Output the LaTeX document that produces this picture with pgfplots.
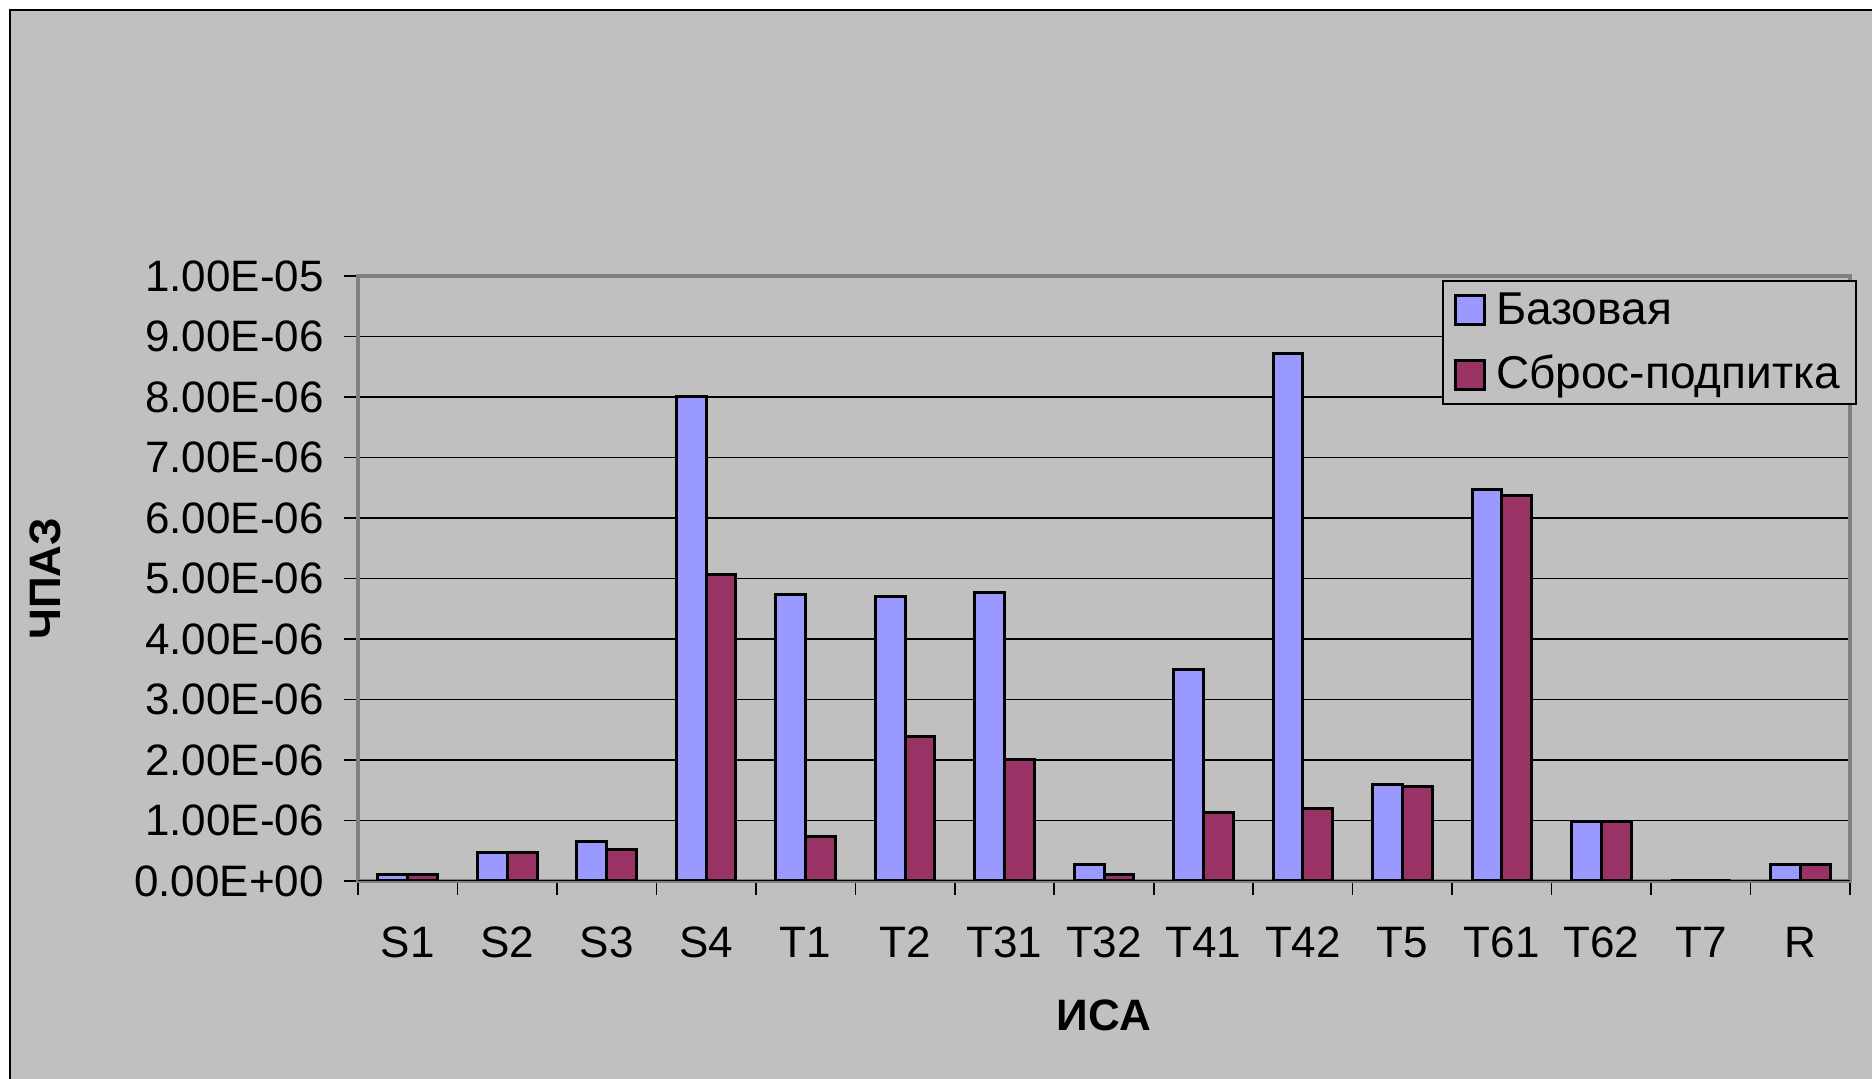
\documentclass[border=0pt]{standalone}
\usepackage{fontspec}
\setmainfont{Liberation Sans}
\usepackage{pgfplots}
\pgfplotsset{compat=1.18}
\definecolor{bgc}{HTML}{C0C0C0}
\definecolor{baza}{HTML}{9999FF}
\definecolor{sbros}{HTML}{993366}
\definecolor{axg}{HTML}{808080}
\begin{document}
\begin{tikzpicture}
\useasboundingbox (0,0) rectangle (468pt,269.75pt);
\fill[white] (0,0) rectangle (468pt,269.75pt);
\clip (0,0) rectangle (468pt,269.75pt);
\filldraw[fill=bgc, draw=black, line width=0.45pt] (2.5pt,-5pt) rectangle (480pt,267.25pt);
\begin{axis}[
  at={(89.5pt,49.5pt)}, anchor=south west,
  scale only axis, width=373pt, height=151.25pt,
  xmin=-0.5, xmax=14.5, ymin=0, ymax=1e-5,
  scaled y ticks=false,
  xtick pos=bottom, ytick pos=left,
  xtick={-0.5,0.5,...,14.5}, xticklabels={},
  extra x ticks={0,1,2,3,4,5,6,7,8,9,10,11,12,13,14},
  extra x tick labels={S1,S2,S3,S4,T1,T2,T31,T32,T41,T42,T5,T61,T62,T7,R},
  extra x tick style={major tick length=0pt, grid=none},
  ytick={0,1e-6,2e-6,3e-6,4e-6,5e-6,6e-6,7e-6,8e-6,9e-6,1e-5},
  yticklabels={0.00E+00,1.00E-06,2.00E-06,3.00E-06,4.00E-06,5.00E-06,6.00E-06,7.00E-06,8.00E-06,9.00E-06,1.00E-05},
  ymajorgrids=true,
  major grid style={black, line width=0.4pt},
  tick align=outside, major tick length=3.5pt,
  tick style={black, line width=0.4pt},
  axis line style={draw=axg, line width=0.9pt},
  ticklabel style={font=\fontsize{11}{13}\selectfont},
  yticklabel style={xshift=-1.5pt},
  xticklabel style={yshift=-8pt},
  legend cell align=left,
  legend style={at={(1.0047,0.9934)}, anchor=north east, fill=bgc, draw=black,
    line width=0.45pt, font=\fontsize{11.5}{13}\selectfont,
    inner xsep=2.8pt, inner ysep=1.1pt, row sep=3.6pt,
    nodes={inner sep=1.25pt, text height=0.85em, text depth=0.15em},
    /tikz/every odd column/.append style={column sep=1.2pt}},
]
\addplot[ybar, bar width=0.3, bar shift=-0.15, fill=baza, draw=black, line width=0.75pt,
  legend image code/.code={\draw[fill=baza,draw=black,line width=0.75pt] (0pt,-3.6pt) rectangle (7.3pt,3.6pt);}]
  coordinates {(0,1.0e-7) (1,4.7e-7) (2,6.5e-7) (3,8.0e-6) (4,4.73e-6) (5,4.71e-6) (6,4.77e-6) (7,2.8e-7) (8,3.49e-6) (9,8.72e-6) (10,1.6e-6) (11,6.47e-6) (12,0.99e-6) (13,0) (14,2.8e-7)};
\addlegendentry{Базовая}
\addplot[ybar, bar width=0.3, bar shift=0.15, fill=sbros, draw=black, line width=0.75pt,
  legend image code/.code={\draw[fill=sbros,draw=black,line width=0.75pt] (0pt,-3.6pt) rectangle (7.3pt,3.6pt);}]
  coordinates {(0,1.0e-7) (1,4.7e-7) (2,5.2e-7) (3,5.07e-6) (4,7.4e-7) (5,2.39e-6) (6,2.01e-6) (7,1.0e-7) (8,1.13e-6) (9,1.2e-6) (10,1.56e-6) (11,6.37e-6) (12,0.99e-6) (13,0) (14,2.8e-7)};
\addlegendentry{Сброс-подпитка}
\draw[black, line width=0.45pt] (axis cs:-0.5,0) -- (axis cs:14.5,0);
\end{axis}
\node[rotate=90, font=\bfseries\fontsize{11}{13}\selectfont] at (11.25pt,125pt) {ЧПАЗ};
\node[font=\bfseries\fontsize{11}{13}\selectfont] at (276pt,16pt) {ИСА};
\end{tikzpicture}
\end{document}
